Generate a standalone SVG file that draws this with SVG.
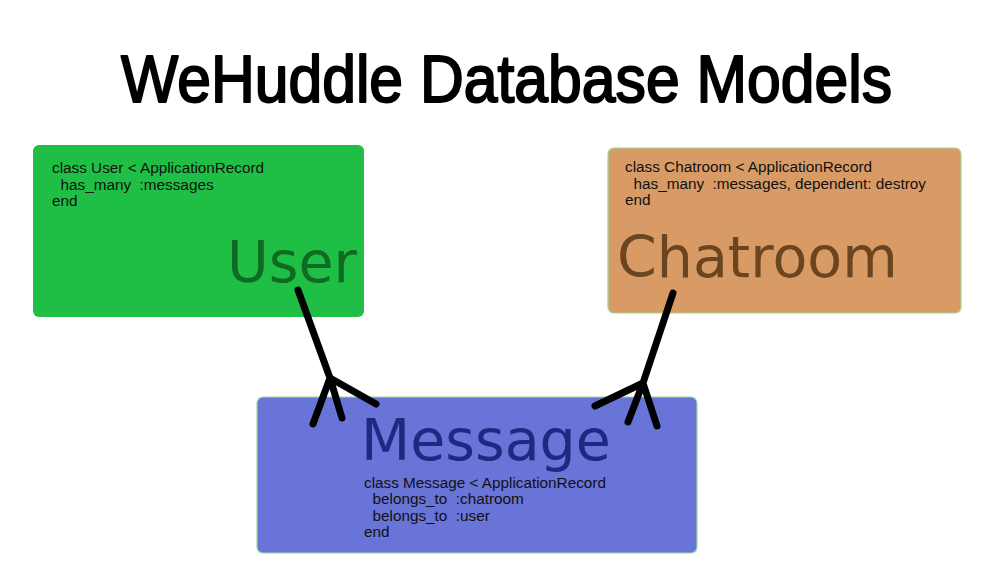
<svg xmlns="http://www.w3.org/2000/svg" width="987" height="586" viewBox="0 0 987 586">
<style>
.code{font-family:"Liberation Sans",Arial,sans-serif;font-size:15.3px;fill:#111;white-space:pre}
.big{font-family:"DejaVu Sans",Verdana,sans-serif;font-size:57px}
.title{font-family:"Liberation Sans",Arial,sans-serif;font-size:66px;font-weight:normal;fill:#000;stroke:#000;stroke-width:2;stroke-linejoin:round}
.conn{fill:none;stroke:#000;stroke-width:7;stroke-linecap:round;stroke-linejoin:round}
</style>
<rect width="987" height="586" fill="#fff"/>
<text class="title" x="121" y="102" textLength="771" lengthAdjust="spacingAndGlyphs">WeHuddle Database Models</text>
<g id="user">
<rect x="33" y="145" width="331" height="172" rx="6" fill="#1fbf45"/>
<text class="code" xml:space="preserve"><tspan x="52" y="173">class User &lt; ApplicationRecord</tspan><tspan x="52" y="190">  has_many  :messages</tspan><tspan x="52" y="206">end</tspan></text>
<text class="big" x="227" y="282" fill="#0f6b22">User</text>
</g>
<g id="chatroom">
<rect x="608" y="148" width="353" height="165" rx="6" fill="#d99b66" stroke="#9ed79a" stroke-width="1.2"/>
<text class="code" xml:space="preserve"><tspan x="625" y="172">class Chatroom &lt; ApplicationRecord</tspan><tspan x="625" y="189">  has_many  :messages, dependent: destroy</tspan><tspan x="625" y="205">end</tspan></text>
<text class="big" x="617" y="277" font-size="58" fill="#6b4420">Chatroom</text>
</g>
<g id="message">
<rect x="257" y="397" width="440" height="156" rx="6" fill="#6874d7" stroke="#9ed79a" stroke-width="1.2"/>
<text class="big" x="361" y="460" fill="#1d2a82">Message</text>
<text class="code" xml:space="preserve"><tspan x="364" y="488">class Message &lt; ApplicationRecord</tspan><tspan x="364" y="504">  belongs_to  :chatroom</tspan><tspan x="364" y="521">  belongs_to  :user</tspan><tspan x="364" y="537">end</tspan></text>
</g>
<g id="connectors">
<path class="conn" d="M298 290 L330 378 M330 378 L313 424 M330 378 L342 418 M330 378 L376 404"/>
<path class="conn" d="M673 293 L643 383 M643 383 L595 406 M643 383 L628 422 M643 383 L657 426"/>
</g>
</svg>
